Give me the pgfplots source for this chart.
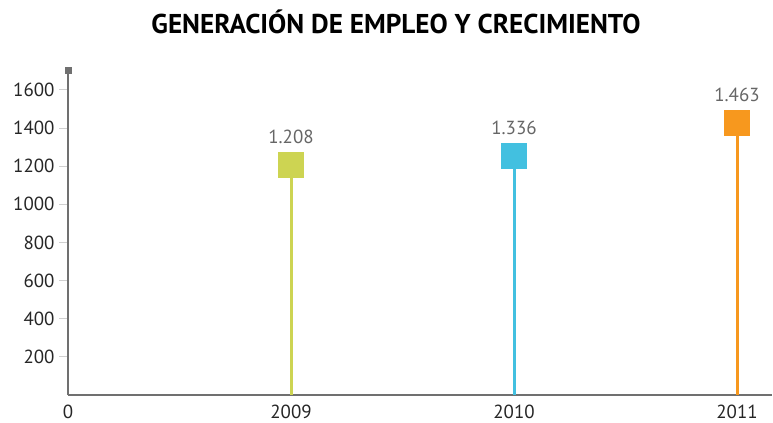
\documentclass[border=0pt]{standalone}
\usepackage{fontspec}
\setmainfont{PT Sans}
\usepackage{pgfplots}
\pgfplotsset{compat=1.18}
\usetikzlibrary{arrows.meta}
\definecolor{cA}{HTML}{CDD452}
\definecolor{cB}{HTML}{42C0E0}
\definecolor{cC}{HTML}{F7981E}
\definecolor{axisgray}{HTML}{707070}
\definecolor{tickgray}{HTML}{D0D0D0}
\definecolor{labgray}{HTML}{666666}
\begin{document}
\begin{tikzpicture}[x=1bp,y=1bp]
\useasboundingbox (0,0) rectangle (773,422);
\node[font=\fontsize{27.3}{30}\selectfont\bfseries, anchor=center] at (396,400) {GENERACIÓN DE EMPLEO Y CRECIMIENTO};
\begin{axis}[
  at={(68bp,27bp)}, anchor=south west,
  scale only axis, width=704bp, height=328bp,
  xmin=0, xmax=3.157, ymin=0, ymax=1720,
  axis x line=bottom, axis y line=left,
  x axis line style={draw=axisgray, line width=1.2bp, -},
  y axis line style={draw=axisgray, line width=1.2bp, -{Square[length=7bp,width=7bp]}},
  xtick={0,1,2,3}, xticklabels={0,2009,2010,2011},
  ytick={200,400,600,800,1000,1200,1400,1600},
  x tick style={draw=none},
  y tick style={draw=tickgray, line width=1bp},
  tick align=outside, major tick length=9bp,
  ticklabel style={font=\fontsize{19}{22}\selectfont, text=black!85},
  xticklabel style={inner ysep=0pt, yshift=-0.5bp},
  yticklabel style={xshift=-1bp},
  /pgf/number format/assume math mode=true,
  /pgf/number format/1000 sep={},
  clip=false,
  nodes near coords,
  point meta=explicit symbolic,
  every node near coord/.append style={font=\fontsize{19}{22}\selectfont, text=labgray, yshift=18bp},
]
\addplot[ycomb, draw=cA, line width=3bp, mark=square*, mark size=12.5bp, mark options={fill=cA, draw=cA, line width=0pt}] coordinates {(1,1208) [1.208]};
\addplot[ycomb, draw=cB, line width=3bp, mark=square*, mark size=12.5bp, mark options={fill=cB, draw=cB, line width=0pt}] coordinates {(2,1253) [1.336]};
\addplot[ycomb, draw=cC, line width=3bp, mark=square*, mark size=12.5bp, mark options={fill=cC, draw=cC, line width=0pt}] coordinates {(3,1425) [1.463]};
\end{axis}
\end{tikzpicture}
\end{document}
